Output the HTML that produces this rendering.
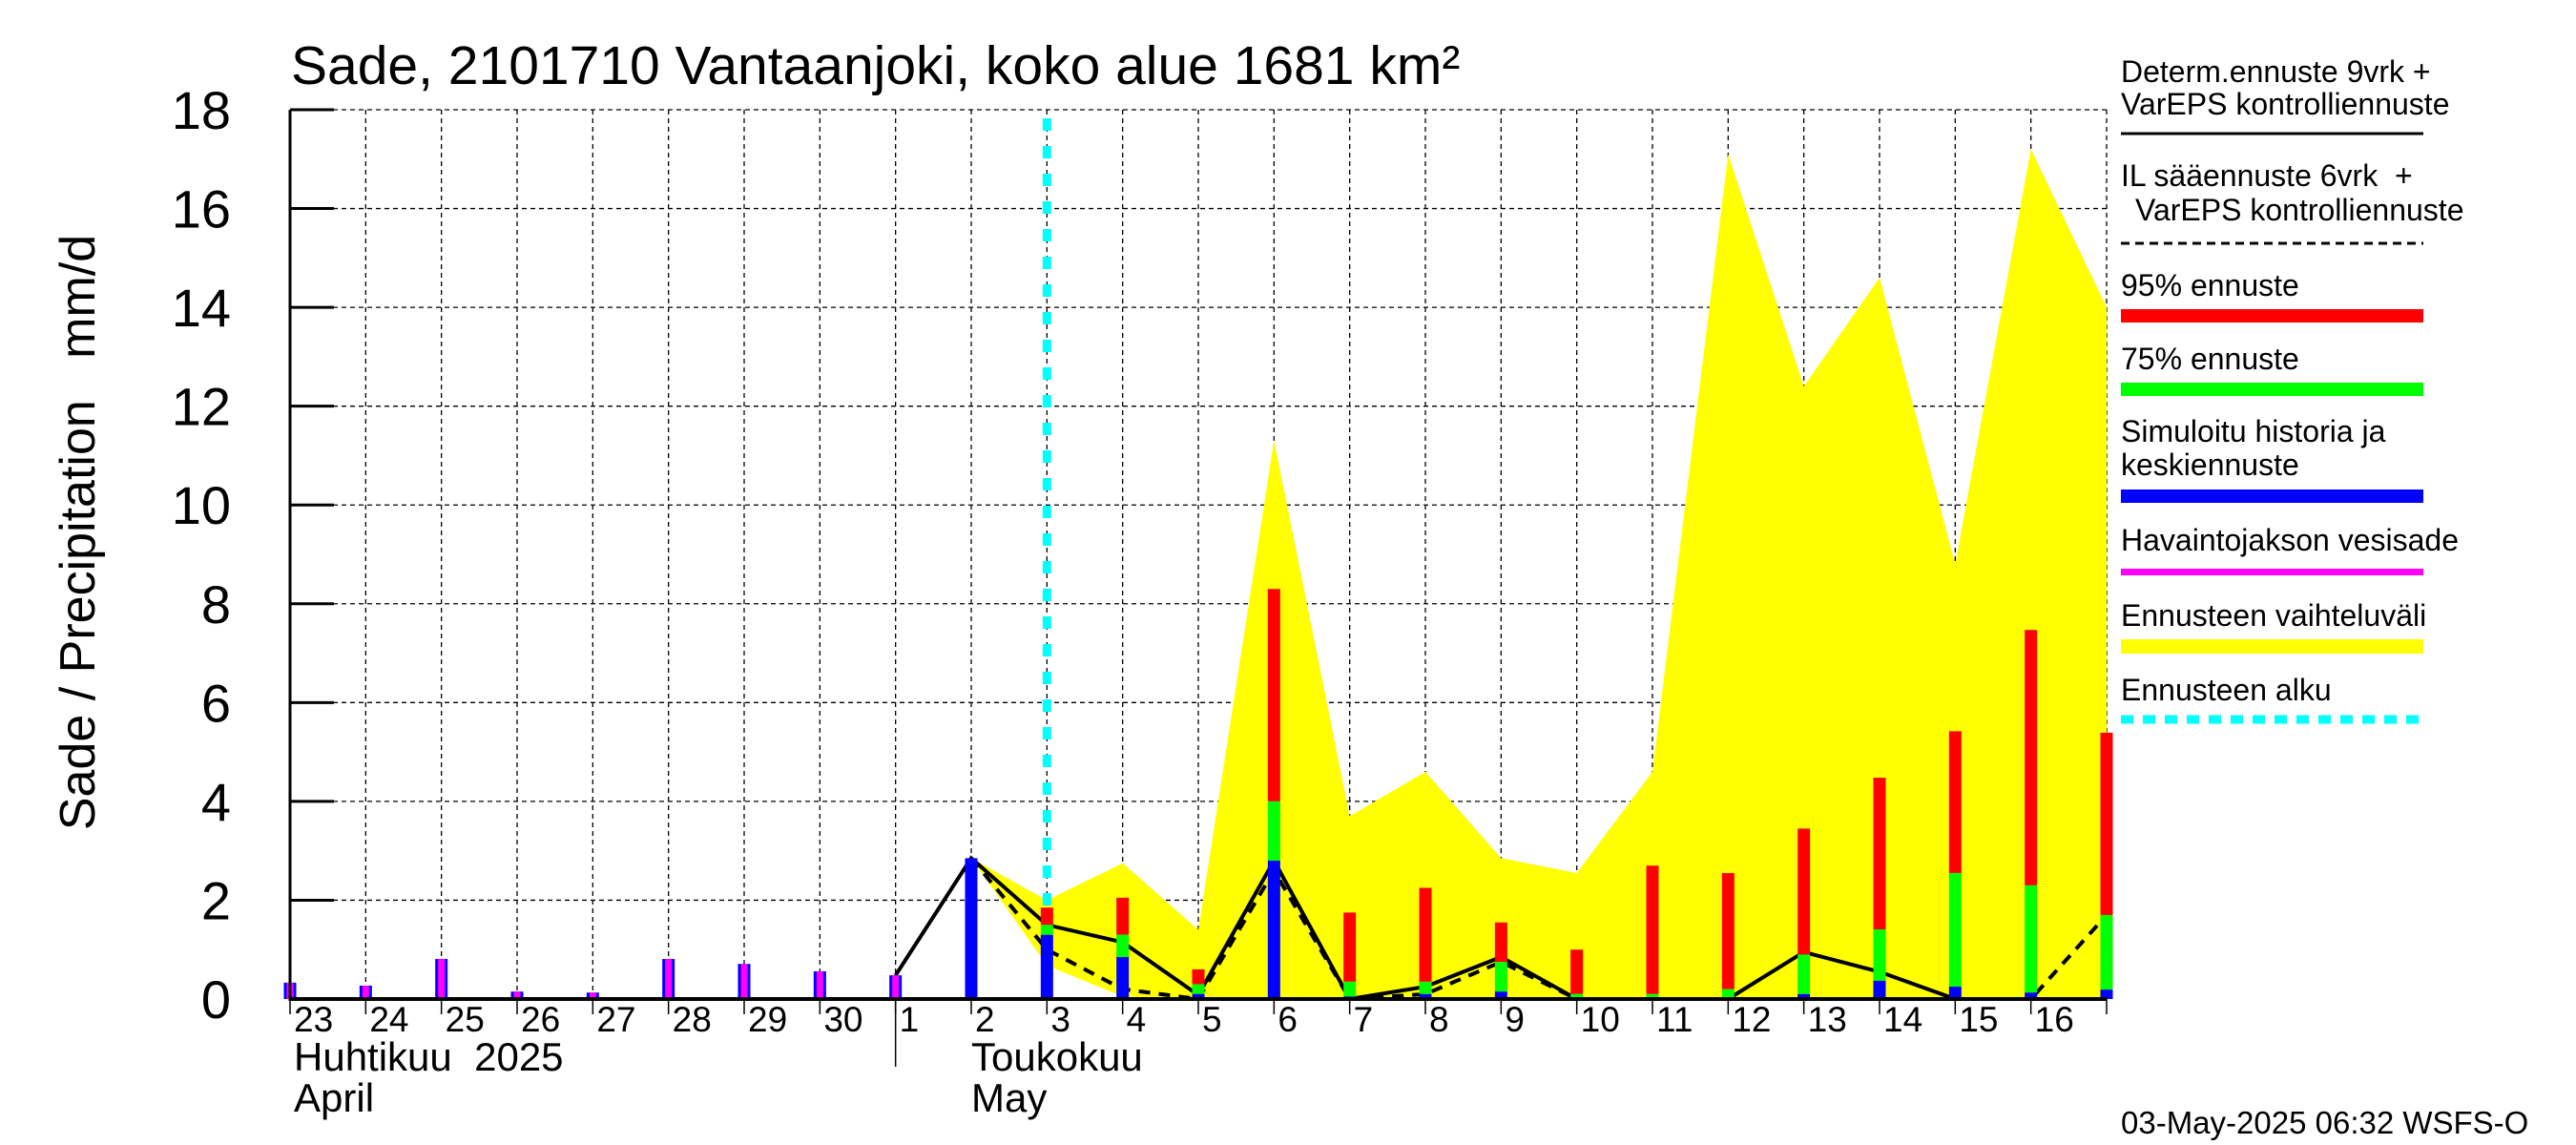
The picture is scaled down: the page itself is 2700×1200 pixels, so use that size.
<!DOCTYPE html>
<html><head><meta charset="utf-8"><style>
html,body{margin:0;padding:0;background:#fff}
svg{display:block;font-family:"Liberation Sans",sans-serif}
</style></head><body>
<svg id="chart" width="2700" height="1200" viewBox="0 0 2700 1200" xmlns="http://www.w3.org/2000/svg">
<rect x="0" y="0" width="2700" height="1200" fill="#fff"/>
<g id="grid"></g>
<g id="band"></g>
<g id="lines"></g>
<g id="bars"></g>
<g id="axes"></g>
<text x="305" y="88" font-size="57">Sade, 2101710 Vantaanjoki, koko alue 1681 km²</text>
<text transform="translate(99,558) rotate(-90)" text-anchor="middle" font-size="52">Sade / Precipitation&#160;&#160;&#160;mm/d</text>
<g font-size="32">
<text x="2223" y="86">Determ.ennuste 9vrk +</text>
<text x="2223" y="120">VarEPS kontrolliennuste</text>
<line x1="2223" y1="140" x2="2540" y2="140" stroke="#000" stroke-width="3"/>
<text x="2223" y="195">IL sääennuste 6vrk&#160;&#160;+</text>
<text x="2238" y="231">VarEPS kontrolliennuste</text>
<line x1="2223" y1="255" x2="2540" y2="255" stroke="#000" stroke-width="3" stroke-dasharray="9,6"/>
<text x="2223" y="310">95% ennuste</text>
<rect x="2223" y="324" width="317" height="14" fill="#f00"/>
<text x="2223" y="387">75% ennuste</text>
<rect x="2223" y="401" width="317" height="14" fill="#0f0"/>
<text x="2223" y="463">Simuloitu historia ja</text>
<text x="2223" y="498">keskiennuste</text>
<rect x="2223" y="513" width="317" height="14" fill="#00f"/>
<text x="2223" y="577">Havaintojakson vesisade</text>
<rect x="2223" y="596" width="317" height="7" fill="#f0f"/>
<text x="2223" y="656">Ennusteen vaihteluväli</text>
<rect x="2223" y="670" width="317" height="15" fill="#ff0"/>
<text x="2223" y="734">Ennusteen alku</text>
<line x1="2223" y1="754" x2="2540" y2="754" stroke="#0ff" stroke-width="9" stroke-dasharray="13,10"/>
</g>
<text x="2223" y="1188" font-size="33">03-May-2025 06:32 WSFS-O</text>
<text x="308" y="1122" font-size="42">Huhtikuu&#160;&#160;2025</text>
<text x="308" y="1165" font-size="42">April</text>
<text x="1018" y="1122" font-size="42">Toukokuu</text>
<text x="1018" y="1165" font-size="42">May</text>
</svg>
<script>
const dayLabels = ["23","24","25","26","27","28","29","30","1","2","3","4","5","6","7","8","9","10","11","12","13","14","15","16","17"];
const yTicks = [0,2,4,6,8,10,12,14,16,18];
// observed precipitation (day index 0..8)
const obsValues = [0.33,0.27,0.81,0.15,0.13,0.81,0.71,0.56,0.48];
// forecast percentiles from day index 9 (May 2) to 24 (May 17)
const fcStart = 9;
const blueValues = [2.85,1.3,0.85,0.1,2.8,0.05,0.1,0.15,0.0,0.0,0.0,0.1,0.37,0.25,0.13,0.19];
const greenValues = [2.85,1.5,1.3,0.3,4.0,0.35,0.35,0.75,0.1,0.1,0.2,0.9,1.41,2.55,2.3,1.7];
const redValues = [2.85,1.85,2.05,0.6,8.3,1.75,2.25,1.55,1.0,2.7,2.55,3.45,4.48,5.42,7.47,5.39];
const bandUpper = [2.85,2.0,2.75,1.4,11.3,3.7,4.6,2.85,2.55,4.6,17.1,12.4,14.6,8.8,17.2,14.0];
const bandLower = [2.85,0.68,0.05,0,0,0,0,0,0,0,0,0,0,0,0,0];
// solid line from May 1 (index 8) to May 16
const solidStart = 8;
const solidValues = [0.48,2.85,1.5,1.15,0.08,2.8,0,0.25,0.85,0,0,0,0.95,0.55,0,0];
// dashed line from May 2 (index 9) to May 17
const dashStart = 9;
const dashValues = [2.85,1.0,0.2,0,2.6,0,0.1,0.75,0,0,0,0,0,0,0,1.7];
const forecastStartDay = 10.0;

const X0=304, X1=2208, Y0=1047, Y1=115, YMAX=18;
const nDays = dayLabels.length-1;
function xs(i){return X0+(X1-X0)*i/nDays;}
function ys(v){return Y0-(Y0-Y1)*v/YMAX;}
const NS="http://www.w3.org/2000/svg";
function mk(tag,attrs,parent){const e=document.createElementNS(NS,tag);for(const k in attrs)e.setAttribute(k,attrs[k]);parent.appendChild(e);return e;}
const grid=document.getElementById('grid'),axes=document.getElementById('axes'),band=document.getElementById('band'),lines=document.getElementById('lines'),bars=document.getElementById('bars');

yTicks.forEach(v=>{
  if(v>0){const l=mk('line',{x1:X0,y1:ys(v),x2:X1,y2:ys(v),stroke:'#000','stroke-width':1.3,'stroke-dasharray':'5,4'},grid);
  
  }
  const t=mk('line',{x1:X0,y1:ys(v),x2:X0+46,y2:ys(v),stroke:'#000','stroke-width':3},axes);
  
  
  const tx=mk('text',{x:242,y:ys(v)+20,'text-anchor':'end','font-size':56},axes);
  tx.textContent=String(v);
  
  
});
dayLabels.forEach((d,i)=>{
  const x=xs(i);
  if(i>0){const l=mk('line',{x1:x,y1:Y1,x2:x,y2:Y0,stroke:'#000','stroke-width':1.3,'stroke-dasharray':'5,4'},grid);
  
  }
  const t=mk('line',{x1:x,y1:Y0,x2:x,y2:Y0+16,stroke:'#000','stroke-width':1.5},axes);
  
  
  if(i<nDays){const tx=mk('text',{x:x+4,y:1081,'font-size':37},axes);
  tx.textContent=d;
  
  }
});
const ms=mk('line',{x1:xs(8),y1:Y0,x2:xs(8),y2:1118,stroke:'#000','stroke-width':1.5},axes);


const la=mk('line',{x1:X0,y1:Y1,x2:X0,y2:Y0+2,stroke:'#000','stroke-width':3},axes);


const lb=mk('line',{x1:X0,y1:Y0,x2:X1,y2:Y0,stroke:'#000','stroke-width':4},axes);



// band
let pts=[];
bandUpper.forEach((v,k)=>pts.push(xs(fcStart+k)+','+ys(v)));
for(let k=bandLower.length-1;k>=0;k--)pts.push(xs(fcStart+k)+','+ys(bandLower[k]));
const bp=mk('polygon',{points:pts.join(' '),fill:'#ff0'},band);



// lines
const sp=mk('polyline',{points:solidValues.map((v,k)=>xs(solidStart+k)+','+ys(v)).join(' '),fill:'none',stroke:'#000','stroke-width':4},lines);


const dp=mk('polyline',{points:dashValues.map((v,k)=>xs(dashStart+k)+','+ys(v)).join(' '),fill:'none',stroke:'#000','stroke-width':4,'stroke-dasharray':'12,9'},lines);



const fs=mk('line',{x1:xs(forecastStartDay),y1:124,x2:xs(forecastStartDay),y2:Y0,stroke:'#0ff','stroke-width':9,'stroke-dasharray':'13,16'},lines);



// bars
const BW=13;
function bar(i,v0,v1,color,name){
  if(v1<=v0)return;
  const r=mk('rect',{x:xs(i)-BW/2,y:ys(v1),width:BW,height:ys(v0)-ys(v1),fill:color},bars);
  
  
}
obsValues.forEach((v,i)=>{
  bar(i,0,v,'#00f','obs-bar-edge');
  const r=mk('rect',{x:xs(i)-3.5,y:ys(v),width:7,height:ys(0)-ys(v),fill:'#f0f'},bars);
  
  
});
redValues.forEach((v,k)=>{
  const i=fcStart+k;
  bar(i,greenValues[k],v,'#f00','bar-95');
  bar(i,blueValues[k],greenValues[k],'#0f0','bar-75');
  bar(i,0,blueValues[k],'#00f','bar-median');
});
</script>
</body></html>
